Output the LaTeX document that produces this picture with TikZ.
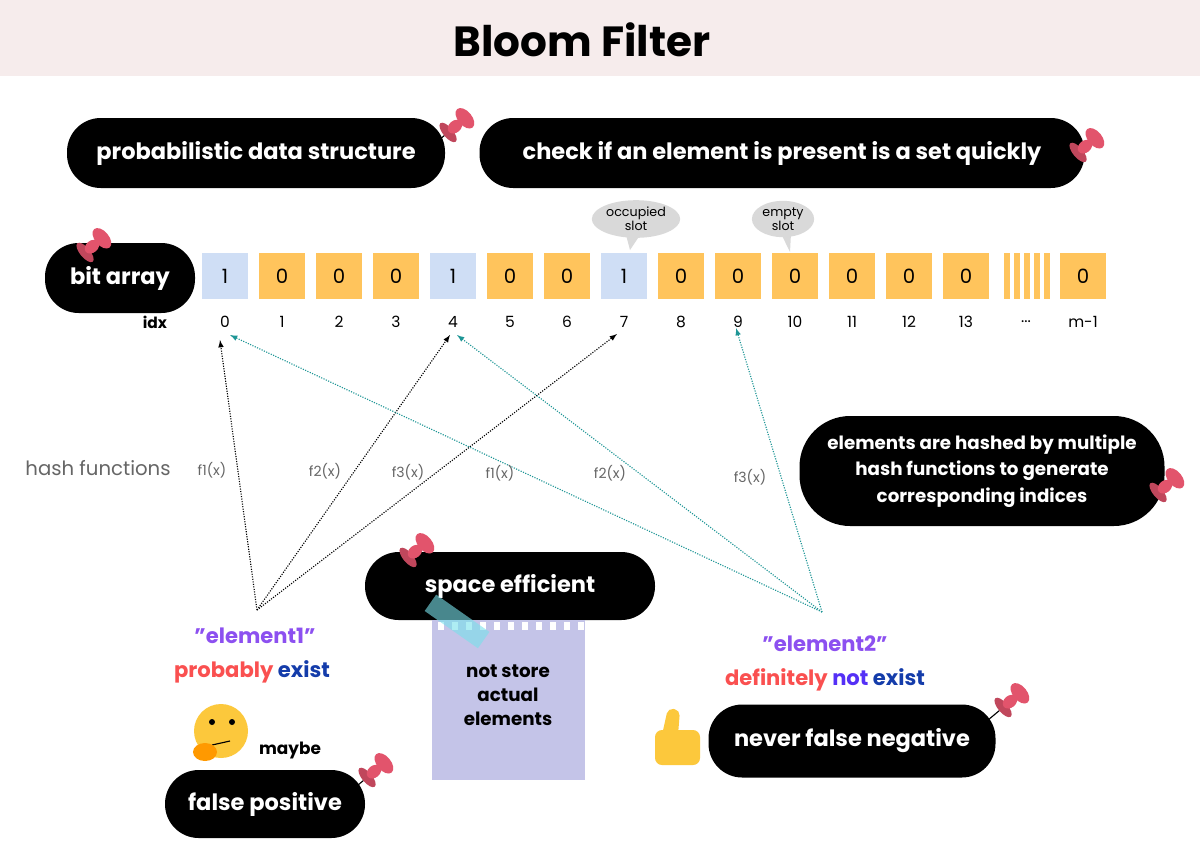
\documentclass[tikz,border=0pt]{standalone}
\usepackage{fontspec}
\setmainfont{Poppins}
\usetikzlibrary{calc,shapes.callouts}
\definecolor{band}{RGB}{246,236,236}
\definecolor{cellB}{RGB}{207,222,245}
\definecolor{cellO}{RGB}{255,196,92}
\definecolor{pinR}{RGB}{226,84,108}
\definecolor{teal}{RGB}{30,150,150}
\definecolor{purp}{RGB}{140,80,240}
\definecolor{redT}{RGB}{250,80,80}
\definecolor{bluT}{RGB}{20,60,170}
\definecolor{note}{RGB}{196,196,232}
\definecolor{tape}{RGB}{120,225,235}
\definecolor{emo}{RGB}{252,200,60}
\begin{document}
\begin{tikzpicture}[x=0.025cm,y=-0.025cm,
  pill/.style={fill=black,rounded corners=24pt,text=white,font=\bfseries\fontsize{16}{18}\selectfont,align=center},
  cell/.style={minimum width=46*0.025cm,minimum height=46*0.025cm,inner sep=0pt,font=\fontsize{14}{16}\selectfont},
  idx/.style={font=\fontsize{11}{13}\selectfont},
  fx/.style={text=gray!80!black,font=\fontsize{10}{12}\selectfont},
  arrE1/.style={densely dotted,thick,-latex},
  arrE2/.style={densely dotted,thick,teal,-latex},
  bubble/.style={ellipse callout,fill=gray!30,align=center,font=\fontsize{9}{10}\selectfont,inner sep=1pt},
  pin/.pic={\draw[black,thick] (0,0) -- (-24,20);
    \fill[pinR!85!black,rotate=-50] (0,-4) ellipse (12 and 5);
    \fill[pinR,rotate=-50] (0,-13) ellipse (6 and 8);
    \fill[pinR,rotate=-50] (0,-26) ellipse (12 and 7);}]
\useasboundingbox (0,0) rectangle (1200,857);
\fill[white] (0,0) rectangle (1200,857);
\fill[band] (0,0) rectangle (1200,76);
\node[font=\bfseries\fontsize{30}{34}\selectfont] (title) at (582,40) {Bloom Filter};

% top pills
\node[pill,minimum width=378*0.025cm,minimum height=70*0.025cm] (p1) at (256,153) {probabilistic data structure};
\node[pill,minimum width=605*0.025cm,minimum height=70*0.025cm] (p2) at (782,153) {check if an element is present is a set quickly};
\pic at (445,135) {pin};
\pic at (1075,155) {pin};

% bit array
\node[pill,minimum width=150*0.025cm,minimum height=70*0.025cm] (ba) at (120,278) {bit array};
\pic at (82,255) {pin};
\node[idx,font=\bfseries\fontsize{11}{13}\selectfont] (ix) at (155,322) {idx};
\foreach \i/\v/\c in {0/1/cellB,1/0/cellO,2/0/cellO,3/0/cellO,4/1/cellB,5/0/cellO,6/0/cellO,7/1/cellB,8/0/cellO,9/0/cellO,10/0/cellO,11/0/cellO,12/0/cellO,13/0/cellO}{
  \node[cell,fill=\c] (c\i) at (225+57*\i,276) {\v};
  \node[idx] (n\i) at (225+57*\i,322) {\i};
}
\foreach \x in {1004,1014,1024,1034,1044}{\fill[cellO] (\x,253) rectangle (\x+6,299);}
\node[cell,fill=cellO] (cm) at (1083,276) {0};
\node[idx] (ndots) at (1026,322) {...};
\node[idx] (nm) at (1083,322) {m-1};

\node[bubble,callout absolute pointer={(630,250)}] (occ) at (636,219) {occupied\\slot};
\node[bubble,callout absolute pointer={(790,252)}] (emp) at (783,219) {empty\\slot};

% elements
\coordinate (e1) at (257,610);
\coordinate (e2) at (822,612);
\coordinate (t0a) at (220,340);
\coordinate (t0b) at (230,335);
\coordinate (t4a) at (450,335);
\coordinate (t4b) at (457,335);
\coordinate (t7) at (617,334);
\coordinate (t9) at (736,328);
\draw[arrE1] (e1) -- (t0a);
\draw[arrE1] (e1) -- (t4a);
\draw[arrE1] (e1) -- (t7);
\draw[arrE2] (e2) -- (t0b);
\draw[arrE2] (e2) -- (t4b);
\draw[arrE2] (e2) -- (t9);
\node[text=gray!80!black,font=\fontsize{14}{15}\selectfont] (hf) at (98,468) {hash functions};
\node[fx] (f11) at (212,470) {f1(x)};
\node[fx] (f12) at (325,471) {f2(x)};
\node[fx] (f13) at (408,472) {f3(x)};
\node[fx] (f21) at (500,473) {f1(x)};
\node[fx] (f22) at (610,473) {f2(x)};
\node[fx] (f23) at (750,477) {f3(x)};

% right pill
\node[pill,minimum width=365*0.025cm,minimum height=110*0.025cm,font=\bfseries\fontsize{13}{19}\selectfont,rounded corners=36pt] (p3) at (982,471) {elements are hashed by multiple\\hash functions to generate\\corresponding indices};
\pic at (1155,495) {pin};

% space efficient + note
\node[pill,minimum width=290*0.025cm,minimum height=68*0.025cm] (p4) at (510,586) {space efficient};
\pic at (405,560) {pin};
\fill[note] (432,620) rectangle (585,780);
\foreach \x in {438,452,...,580}{\fill[white] (\x,622) rectangle (\x+6,630);}
\node[align=center,font=\bfseries\fontsize{13}{17}\selectfont] (nt) at (508,695) {not store\\actual\\elements};
\fill[tape,opacity=0.6,rotate around={-35:(455,620)}] (425,610) rectangle (490,630);

\node[text=purp,font=\bfseries\fontsize{15}{16}\selectfont] (el1) at (255,636) {"element1"};
\node[font=\bfseries\fontsize{15}{16}\selectfont] (pe) at (252,672) {\textcolor{redT}{probably} \textcolor{bluT}{exist}};
\node[text=purp,font=\bfseries\fontsize{15}{16}\selectfont] (el2) at (825,644) {"element2"};
\node[font=\bfseries\fontsize{15}{16}\selectfont] (dn) at (825,680) {\textcolor{redT}{definitely} \textcolor{purp!60!blue}{not} \textcolor{bluT}{exist}};

% thinking face
\fill[emo] (221,731) circle (27);
\fill[black] (212,722) circle (3);
\fill[black] (232,722) circle (3);
\draw[black,thick] (212,745) -- (230,741);
\fill[orange!80!yellow] (205,752) ellipse (12 and 9);
\node[font=\bfseries\fontsize{12}{14}\selectfont] (mb) at (290,750) {maybe};
\node[pill,minimum width=200*0.025cm,minimum height=68*0.025cm] (p5) at (265,804) {false positive};
\pic at (364,780) {pin};

% thumbs up
\fill[emo,rounded corners=5pt] (655,730) rectangle (700,765);
\fill[emo,rounded corners=4pt] (662,735) -- (668,708) -- (680,710) -- (678,735) -- cycle;
\node[pill,minimum width=287*0.025cm,minimum height=73*0.025cm] (p6) at (852,741) {never false negative};
\pic at (1000,710) {pin};
\end{tikzpicture}
\end{document}
